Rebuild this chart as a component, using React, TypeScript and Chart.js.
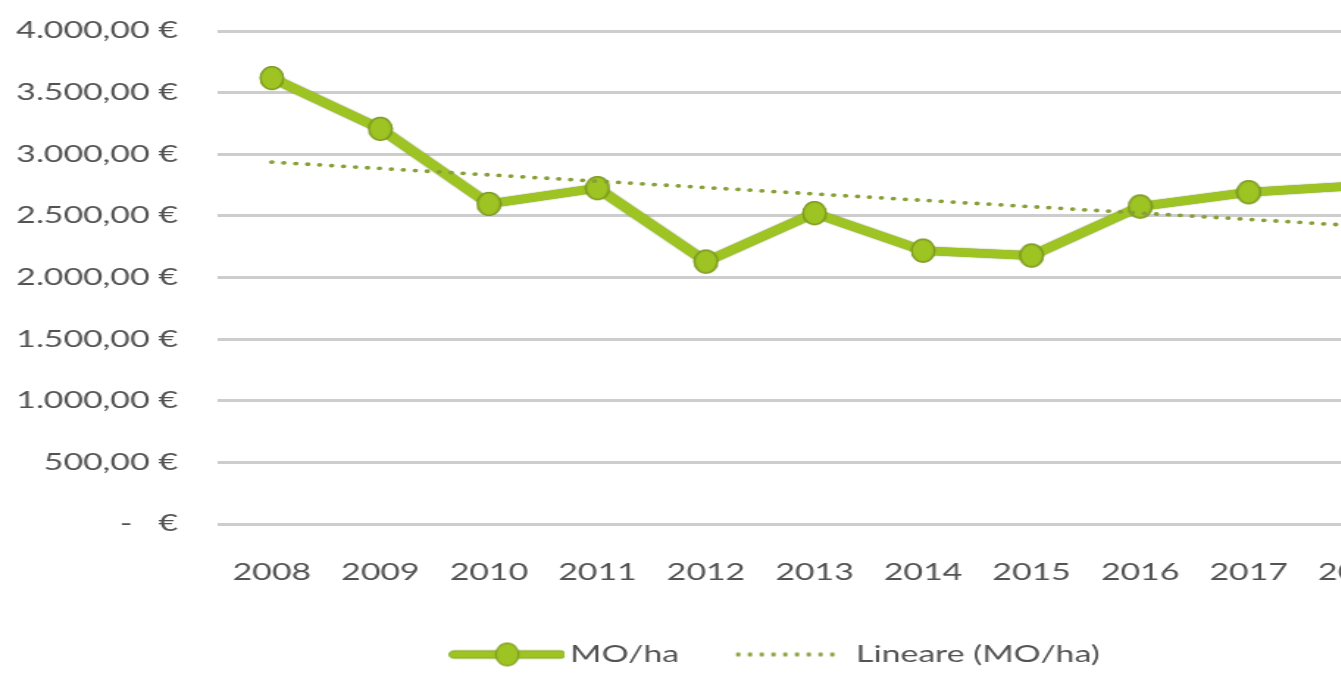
import React, { useEffect, useRef } from 'react';
import { Chart, registerables } from 'chart.js';

Chart.register(...registerables);

// ---- data ----
const years = ['2008', '2009', '2010', '2011', '2012', '2013', '2014', '2015', '2016', '2017', '2018', '2019'];
const moPerHa = [3618, 3206, 2597, 2725, 2129, 2522, 2218, 2178, 2576, 2692, 2745, 2675];
const trendYears = ['2008', '2019'];
const trendValues = [2936, 2368];
const yTickValues = [0, 500, 1000, 1500, 2000, 2500, 3000, 3500, 4000];
const yTickLabels = ['-   €', '500,00 €', '1.000,00 €', '1.500,00 €', '2.000,00 €', '2.500,00 €', '3.000,00 €', '3.500,00 €', '4.000,00 €'];
const legendLabels = ['MO/ha', 'Lineare (MO/ha)'];

// ---- styling ----
const STRETCH = 1.47;
const CW = 1034;
const CH = 673;
const FONT_FAMILY = "Lato, 'Open Sans', sans-serif";
const FONT_SIZE = 23;
const TEXT = '#535353';
const LINE = '#9DC423';
const LINE_DARK = '#7E9C1F';
const TREND = '#86A036';
const GRID = '#CDCDCD';

const LEG_B = 90.4;
const LEG_P = 18.5;
const LEG_W = 106;
const LEG_H = 26;

function makeMarker(): HTMLCanvasElement {
  const c = document.createElement('canvas');
  c.width = 18;
  c.height = 26;
  const g = c.getContext('2d')!;
  g.beginPath();
  g.ellipse(9, 13, 11.3 / STRETCH, 11.3, 0, 0, Math.PI * 2);
  g.fillStyle = LINE;
  g.fill();
  g.lineWidth = 1.2;
  g.strokeStyle = LINE_DARK;
  g.stroke();
  return c;
}

function makeLegendLine(): HTMLCanvasElement {
  const c = document.createElement('canvas');
  c.width = LEG_W;
  c.height = LEG_H;
  const g = c.getContext('2d')!;
  const x0 = 28.2 + 3;
  const x1 = 105.7 - 3;
  g.lineCap = 'round';
  g.lineWidth = 8.5;
  g.strokeStyle = LINE_DARK;
  g.beginPath();
  g.moveTo(x0, 13);
  g.lineTo(x1, 13);
  g.stroke();
  g.lineWidth = 7;
  g.strokeStyle = LINE;
  g.beginPath();
  g.moveTo(x0, 13);
  g.lineTo(x1, 13);
  g.stroke();
  g.beginPath();
  g.ellipse((28.2 + 105.7) / 2, 13, 11.3 / STRETCH, 11.3, 0, 0, Math.PI * 2);
  g.fillStyle = LINE;
  g.fill();
  g.lineWidth = 1.2;
  g.strokeStyle = LINE_DARK;
  g.stroke();
  return c;
}

function makeLegendDots(): HTMLCanvasElement {
  const c = document.createElement('canvas');
  c.width = LEG_W;
  c.height = LEG_H;
  const g = c.getContext('2d')!;
  g.fillStyle = TREND;
  const start = 29.5;
  const end = 93.5;
  for (let i = 0; i < 9; i++) {
    g.beginPath();
    g.ellipse(start + (i * (end - start)) / 8, 13, 1.5, 2.2, 0, 0, Math.PI * 2);
    g.fill();
  }
  return c;
}

const edgePlugin = {
  id: 'lineEdge',
  beforeDatasetDraw(chart: any, args: any) {
    if (args.index !== 0) return;
    const ctx = chart.ctx;
    ctx.save();
    ctx.shadowColor = 'rgba(95,120,20,0.85)';
    ctx.shadowBlur = 1.5;
  },
  afterDatasetDraw(chart: any, args: any) {
    if (args.index !== 0) return;
    chart.ctx.restore();
  },
};

export default function App() {
  const ref = useRef<HTMLCanvasElement | null>(null);

  useEffect(() => {
    if (!ref.current) return;
    const marker = makeMarker();
    const legendImgs = [makeLegendLine(), makeLegendDots()];
    const font = { family: FONT_FAMILY, size: FONT_SIZE };

    const chart = new Chart(ref.current, {
      type: 'line',
      plugins: [edgePlugin],
      data: {
        labels: years,
        datasets: [
          {
            label: legendLabels[0],
            data: moPerHa,
            borderColor: LINE,
            backgroundColor: LINE,
            borderWidth: 8.5,
            pointStyle: marker as any,
            pointRadius: 10,
            pointHoverRadius: 10,
            pointBackgroundColor: LINE,
            pointBorderColor: LINE_DARK,
            tension: 0,
            order: 1,
          },
          {
            label: legendLabels[1],
            data: trendYears.map((x, i) => ({ x, y: trendValues[i] })) as any,
            borderColor: TREND,
            borderWidth: 3.8,
            borderDash: [0.001, 8.16],
            borderCapStyle: 'round',
            pointRadius: 0,
            pointHoverRadius: 0,
            tension: 0,
            order: 0,
          },
        ],
      },
      options: {
        responsive: false,
        maintainAspectRatio: false,
        animation: false,
        devicePixelRatio: 1,
        events: [],
        layout: { autoPadding: false, padding: { top: 31, left: 0, right: 0, bottom: -3 } },
        plugins: {
          legend: {
            position: 'bottom',
            labels: {
              usePointStyle: true,
              pointStyleWidth: LEG_B,
              padding: LEG_P,
              color: TEXT,
              font,
              generateLabels: () =>
                legendLabels.map((t, i) => ({
                  text: t,
                  pointStyle: legendImgs[i] as any,
                  datasetIndex: i,
                  hidden: false,
                  fillStyle: 'rgba(0,0,0,0)',
                  strokeStyle: 'rgba(0,0,0,0)',
                  lineWidth: 0,
                  fontColor: TEXT,
                })),
            },
          },
          tooltip: { enabled: false },
        },
        scales: {
          x: {
            type: 'category',
            offset: true,
            grid: { display: false, drawTicks: false },
            border: { display: false },
            ticks: { color: TEXT, font, padding: 35, maxRotation: 0, autoSkip: false },
            afterFit: (s: any) => {
              s.height = 100.5;
              s.paddingLeft = 0;
              s.paddingRight = 0;
            },
          },
          y: {
            min: 0,
            max: 4000,
            ticks: {
              stepSize: 500,
              color: TEXT,
              font,
              padding: 27,
              callback: (v: any) => {
                const idx = yTickValues.indexOf(Number(v));
                return idx >= 0 ? yTickLabels[idx] : '';
              },
            },
            grid: { color: GRID, lineWidth: 3, drawTicks: false },
            border: { display: false },
            afterFit: (s: any) => {
              s.width = 148;
              s.paddingTop = 0;
              s.paddingBottom = 0;
            },
          },
        },
      },
    });
    return () => chart.destroy();
  }, []);

  return (
    <div
      style={{
        position: 'fixed',
        left: 0,
        top: 0,
        width: 1341,
        height: 673,
        overflow: 'hidden',
        background: '#ffffff',
      }}
    >
      <canvas
        ref={ref}
        width={CW}
        height={CH}
        style={{ width: `${CW * STRETCH}px`, height: `${CH}px`, display: 'block' }}
      />
    </div>
  );
}
